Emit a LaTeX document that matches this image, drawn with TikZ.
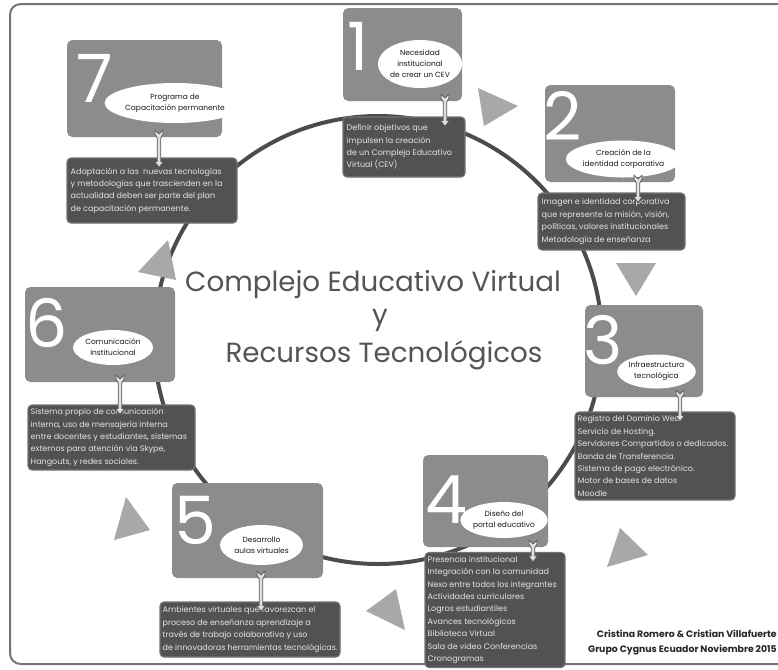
\documentclass[tikz,border=0pt]{standalone}
\usepackage{fontspec}
\setmainfont{Poppins}
\usetikzlibrary{calc,shapes.geometric}
\definecolor{lboxc}{gray}{0.55}
\definecolor{dboxc}{gray}{0.32}
\definecolor{dboxb}{gray}{0.45}
\definecolor{tric}{gray}{0.66}
\definecolor{ringc}{gray}{0.30}
\definecolor{titlec}{gray}{0.33}
\definecolor{dtextc}{gray}{0.90}
\definecolor{framec}{gray}{0.45}
\newcommand\dtxt{\fontsize{6.0pt}{9.3pt}\selectfont}
\newcommand\etxt{\fontsize{5.6pt}{8.2pt}\selectfont}
\newcommand\fletch[2]{%
\filldraw[conn] ($(#1)+(-4,0)$) -- ($(#1)+(0,3.5)$) -- ($(#1)+(4,0)$) -- ($(#1)+(4,4)$) -- ($(#1)+(1.8,7.5)$) -- ($(#2)+(1.8,-6)$) -- ($(#2)+(4.5,-6)$) -- (#2) -- ($(#2)+(-4.5,-6)$) -- ($(#2)+(-1.8,-6)$) -- ($(#1)+(-1.8,7.5)$) -- ($(#1)+(-4,4)$) -- cycle;}
\tikzset{
 lbox/.style 2 args={fill=lboxc, rounded corners=4pt, minimum width={#1*0.75pt}, minimum height={#2*0.75pt}, inner sep=0pt},
 dbox/.style 2 args={fill=dboxc, draw=dboxb, line width=0.8pt, rounded corners=3pt, minimum width={#1*0.75pt}, minimum height={#2*0.75pt}, inner sep=0pt},
 dtext/.style={anchor=west, inner sep=0pt, align=left, text=dtextc, font=\dtxt},
 ell/.style 2 args={ellipse, fill=white, minimum width={#1*0.75pt}, minimum height={#2*0.75pt}, inner sep=0pt, align=center, font=\etxt, text=black!90},
 num/.style={text=white, font=\fontsize{50pt}{50pt}\selectfont, inner sep=0pt},
 conn/.style={fill=gray!25, draw=black!65, line width=0.6pt, line join=miter},
 tri/.style={fill=tric},
 ring/.style={draw=ringc, line width=3pt},
 title/.style={text=titlec, font=\fontsize{20.8pt}{22pt}\selectfont, inner sep=0pt},
 foot/.style={text=black!85, font=\fontsize{7pt}{8pt}\selectfont\bfseries, inner sep=0pt},
}
\begin{document}
\begin{tikzpicture}[x=0.75pt,y=-0.75pt]
\useasboundingbox (0,0) rectangle (778,669);
\clip (0,0) rectangle (778,669);
\fill[white] (0,0) rectangle (778,669);
\draw[draw=framec, line width=1.5pt, rounded corners=8pt] (10,4) rectangle (800,664);
% ring
\draw[ring] (378,340) circle [radius=224];
% triangles
\fill[tri] (478,88) -- (518,106) -- (484,126) -- cycle;
\fill[tri] (616,263) -- (656,263) -- (636,296) -- cycle;
\fill[tri] (620,528) -- (648,555) -- (607,567) -- cycle;
\fill[tri] (396,589) -- (405,630) -- (366,611) -- cycle;
\fill[tri] (126,497) -- (150,530) -- (114,540) -- cycle;
\fill[tri] (168,240) -- (176,280) -- (138,272) -- cycle;
% title
\node[title] (ti1) at (373,285) {Complejo Educativo Virtual};
\node[title] (ti2) at (380,320) {y};
\node[title] (ti3) at (384,355) {Recursos Tecnológicos};
% box 1
\node[lbox={119}{93}] (b1) at (402.5,54.5) {};
\node[num] (n1) at (358,46) {1};
\node[ell={80}{48}] (e1) at (420,64) {Necesidad\\institucional\\de crear un CEV};
\node[dbox={122}{60}] (t1) at (404,147) {};
\node[dtext] (x1) at ($(t1.west)+(4,0)$) {Definir objetivos que\\impulsen la creación\\de un Complejo Educativo\\Virtual (CEV)};
% box 2
\node[lbox={130}{97}] (b2) at (610,133.5) {};
\node[num] (n2) at (563,116) {2};
\node[ell={97}{37}] (e2) at (623.5,159) {Creación de la\\identidad corporativa};
\node[dbox={147}{57}] (t2) at (611.5,221.5) {};
\node[dtext] (x2) at ($(t2.west)+(4,0)$) {Imagen e identidad corporativa\\que represente la misión, visión,\\políticas, valores institucionales\\Metodología de enseñanza};
% box 3
\node[lbox={118}{92}] (b3) at (644,351) {};
\node[num] (n3) at (603,340) {3};
\node[ell={77}{34}] (e3) at (656.5,371.5) {Infraestructura\\tecnológica};
\node[dbox={160}{88}] (t3) at (655,456) {};
\node[dtext] (x3) at ($(t3.west)+(3,0)$) {Registro del Dominio Web.\\Servicio de Hosting.\\Servidores Compartidos o dedicados.\\Banda de Transferencia.\\Sistema de pago electrónico.\\Motor de bases de datos\\Moodle};
% box 4
\node[lbox={125}{92}] (b4) at (485.5,501) {};
\node[num] (n4) at (446,500) {4};
\node[ell={78}{36}] (e4) at (504,520) {Diseño del\\portal educativo};
\node[dbox={140}{115}] (t4) at (495,610) {};
\node[dtext] (x4) at ($(t4.west)+(3,0)$) {Presencia institucional\\Integración con la comunidad\\Nexo entre todos los integrantes\\Actividades curriculares\\Logros estudiantiles\\Avances tecnológicos\\Biblioteca Virtual\\Sala de video Conferencias\\Cronogramas};
% box 5
\node[lbox={151}{95}] (b5) at (247.5,530.5) {};
\node[num] (n5) at (195,520) {5};
\node[ell={83}{40}] (e5) at (261.5,545) {Desarrollo\\aulas virtuales};
\node[dbox={180}{55}] (t5) at (250,629.5) {};
\node[dtext] (x5) at ($(t5.west)+(3,0)$) {Ambientes virtuales que favorezcan el\\proceso de enseñanza aprendizaje a\\través de trabajo colaborativo y uso\\de innovadoras herramientas tecnológicas.};
% box 6
\node[lbox={150}{95}] (b6) at (100,334.5) {};
\node[num] (n6) at (46.5,322.5) {6};
\node[ell={80}{35}] (e6) at (113,347.5) {Comunicación\\Institucional};
\node[dbox={167}{65}] (t6) at (111.5,437.5) {};
\node[dtext] (x6) at ($(t6.west)+(3,0)$) {Sistema propio de comunicación\\interna, uso de mensajería interna\\entre docentes y estudiantes, sistemas\\externos para atención vía Skype,\\Hangouts, y redes sociales.};
% box 7
\node[lbox={155}{97}] (b7) at (144.5,88.5) {};
\node[num] (n7) at (95,78.5) {7};
\node[ell={94}{40}] (e7) at (175,103) {Programa de\\Capacitación permanente};
\node[dbox={170}{65}] (t7) at (152,190.5) {};
\node[dtext] (x7) at ($(t7.west)+(4,0)$) {Adaptación a las\ \ nuevas tecnologías\\y metodologías que trascienden en la\\actualidad deben ser parte del plan\\de capacitación permanente.};
% arrows
\coordinate (a1) at (445,0);
\coordinate (a2) at (638,0);
\coordinate (a3) at (680,0);
\coordinate (a4) at (533,0);
\coordinate (a5) at (261,0);
\coordinate (a6) at (120,0);
\coordinate (a7) at (159,0);
\foreach \i in {1,...,7}{
 \coordinate (s\i) at ($(b\i.south -| a\i)+(0,-7)$);
 \coordinate (d\i) at ($(t\i.north -| a\i)+(0,10)$);
 \fletch{s\i}{d\i}
}
% footer
\node[foot, anchor=east] (f1) at (777,634) {Cristina Romero \& Cristian Villafuerte};
\node[foot, anchor=east] (f2) at (777,650) {Grupo Cygnus Ecuador Noviembre 2015};
\end{tikzpicture}
\end{document}
